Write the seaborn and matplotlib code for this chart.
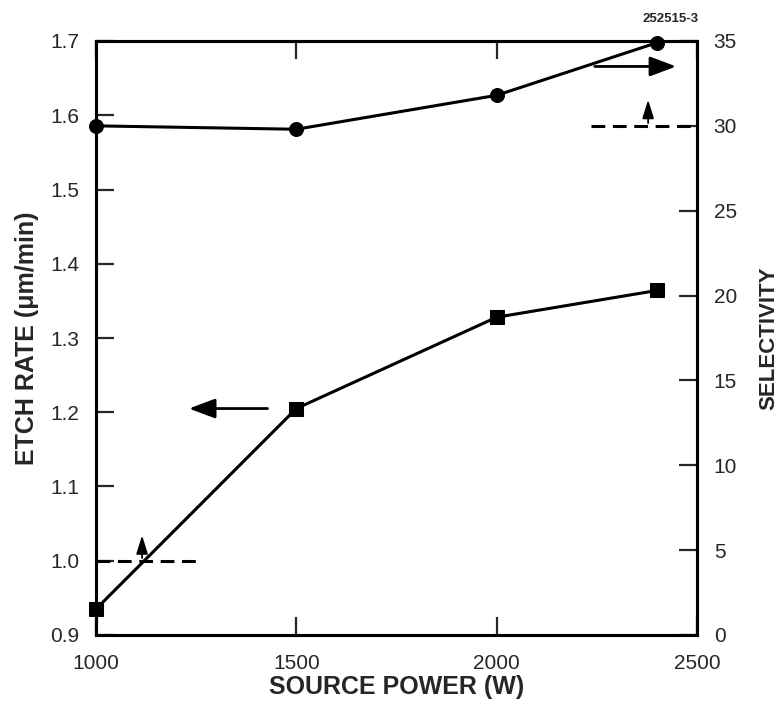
import matplotlib
matplotlib.use("Agg")
import matplotlib.pyplot as plt
import seaborn as sns
import pandas as pd

power = [1000, 1500, 2000, 2400]
etch_rate = [0.935, 1.205, 1.328, 1.364]
selectivity = [30.0, 29.8, 31.8, 34.9]

x_ticks = [1000, 1500, 2000, 2500]
etch_ticks = [0.9, 1.0, 1.1, 1.2, 1.3, 1.4, 1.5, 1.6, 1.7]
sel_ticks = [0, 5, 10, 15, 20, 25, 30, 35]

etch_spec = 1.0
sel_spec = 30

sns.set_style("ticks")
plt.rcParams['font.family'] = ['Liberation Sans', 'DejaVu Sans']

df = pd.DataFrame({"power": power, "etch": etch_rate, "sel": selectivity})

fig = plt.figure(figsize=(7.83, 7.05), dpi=100)
ax = fig.add_axes([96/783, 70/705, 601/783, 594/705])
ax2 = ax.twinx()

lw = 2.2
sns.lineplot(data=df, x="power", y="etch", ax=ax, color="black", lw=lw,
             marker="s", markersize=9.5, markeredgecolor="black", clip_on=False)
sns.lineplot(data=df, x="power", y="sel", ax=ax2, color="black", lw=lw,
             marker="o", markersize=10, markeredgecolor="black", clip_on=False)

ax.set_xlim(1000, 2500)
ax.set_ylim(0.9, 1.7)
ax2.set_ylim(0, 35)
ax.set_xticks(x_ticks)
ax.set_yticks(etch_ticks)
ax2.set_yticks(sel_ticks)
ax.set_yticklabels([f"{v:.1f}" for v in etch_ticks])

for a in (ax, ax2):
    for s in a.spines.values():
        s.set_visible(True)
        s.set_linewidth(2.2)
        s.set_color("black")

tick_kw = dict(direction="in", length=13, width=1.6, labelsize=15)
ax.tick_params(axis="x", top=True, pad=14, **tick_kw)
ax.tick_params(axis="y", pad=12, **tick_kw)
ax2.tick_params(axis="y", pad=12, **tick_kw)

ax.set_xlabel("SOURCE POWER (W)", fontsize=18, fontweight="bold", labelpad=1)
ax.set_ylabel("ETCH RATE (μm/min)", fontsize=18, fontweight="bold", labelpad=8)
ax2.set_ylabel("SELECTIVITY", fontsize=16, fontweight="bold", labelpad=15)

dash = (0, (4.5, 2.5))
# spec lines
ax.plot([1000, 1260], [etch_spec, etch_spec], ls=dash, color="black", lw=2.2)
ax.annotate("", xy=(1115, 1.038), xytext=(1115, etch_spec),
            arrowprops=dict(arrowstyle="-|>,head_length=0.8,head_width=0.25",
                            color="black", lw=1.3, mutation_scale=14))
ax2.plot([2235, 2500], [sel_spec, sel_spec], ls=dash, color="black", lw=2.2)
ax2.annotate("", xy=(2378, 31.7), xytext=(2378, sel_spec),
             arrowprops=dict(arrowstyle="-|>,head_length=0.8,head_width=0.25",
                             color="black", lw=1.3, mutation_scale=14))

# axis direction arrows
ax.annotate("", xy=(1225, 1.205), xytext=(1435, 1.205),
            arrowprops=dict(arrowstyle="-|>,head_length=0.8,head_width=0.3",
                            color="black", lw=2.0, mutation_scale=20))
ax2.annotate("", xy=(2455, 33.5), xytext=(2238, 33.5),
             arrowprops=dict(arrowstyle="-|>,head_length=0.8,head_width=0.3",
                             color="black", lw=2.0, mutation_scale=20))

fig.text(671/783, 1 - 19/705, "252515-3", fontsize=9.5, fontweight="bold",
         ha="center", va="center")

fig.savefig("out.png", dpi=100)
